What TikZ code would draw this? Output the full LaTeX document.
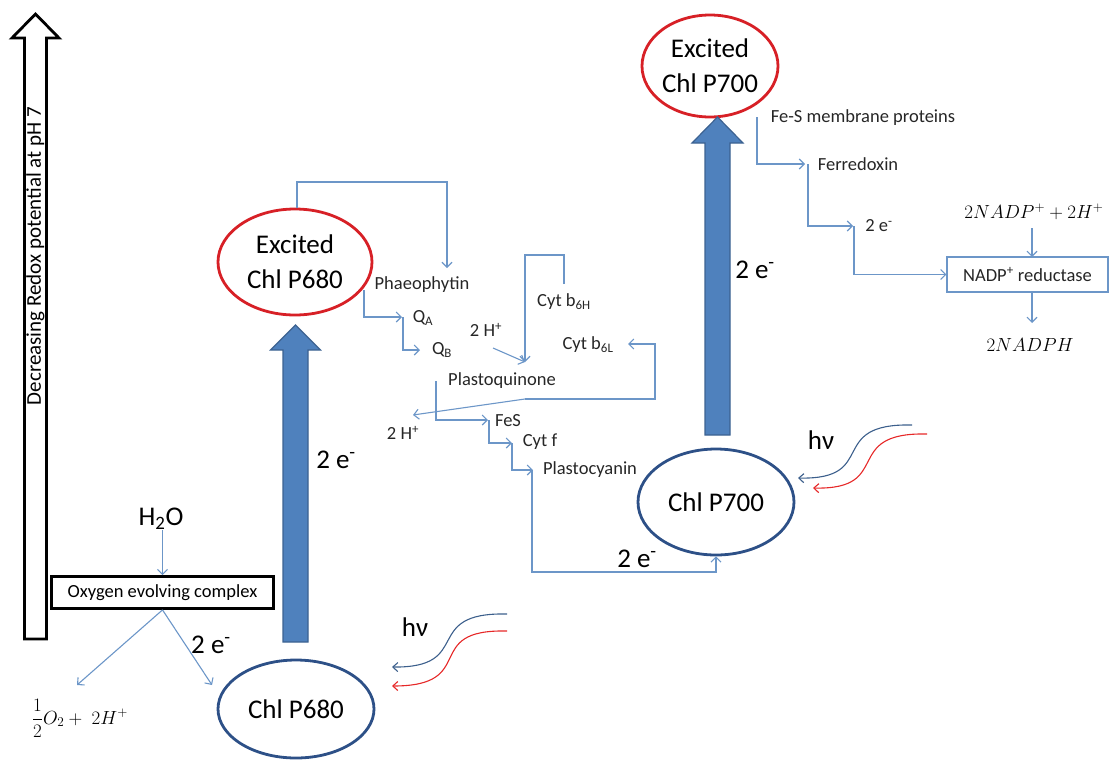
\RequirePackage{fix-cm}
\documentclass[tikz,border=0pt]{standalone}
\usepackage{fontspec}
\setmainfont{Carlito}
\usetikzlibrary{arrows.meta,shapes.geometric}
\definecolor{conn}{RGB}{108,150,200}
\definecolor{bigfill}{RGB}{79,129,189}
\definecolor{bigedge}{RGB}{60,98,145}
\definecolor{exred}{RGB}{215,32,38}
\definecolor{ellblue}{RGB}{45,80,135}
\definecolor{wavered}{RGB}{230,40,40}
\definecolor{waveblue}{RGB}{60,95,140}
\begin{document}
\begin{tikzpicture}[x=1pt,y=-1pt,
  conn/.style={draw=conn, line width=1.1pt, -{Straight Barb[length=5pt,width=10pt]}},
  bigtxt/.style={inner sep=0pt, font=\fontsize{27}{31}\selectfont, text=black},
  smalltxt/.style={inner sep=0pt, font=\fontsize{18.5}{21}\selectfont, text=black!85},
  mathtxt/.style={inner sep=0pt, font=\fontsize{19}{22}\selectfont, text=black},
  exell/.style={ellipse, draw=exred, line width=2.8pt, inner sep=0pt, align=center, font=\fontsize{27}{35}\selectfont},
  chlell/.style={ellipse, draw=ellblue, line width=2.8pt, inner sep=0pt, font=\fontsize{27}{31}\selectfont},
  bigarrow/.style={fill=bigfill, draw=bigedge, line width=1.2pt, line join=miter},
  wave/.style={line width=1.1pt, -{Straight Barb[length=5pt,width=9pt]}},
]
\useasboundingbox (0,0) rectangle (1110,761);

% redox potential arrow
\draw[line width=2.8pt, fill=white, line join=miter] (24.5,639) -- (24.5,38) -- (12,38) -- (35.5,14) -- (59,38) -- (46.5,38) -- (46.5,639) -- cycle;
\node[rotate=90, inner sep=0pt, font=\fontsize{21}{24}\selectfont] (redox) at (35.5,256) {Decreasing Redox potential at pH 7};

% Oxygen evolving complex
\node[draw=black, line width=2.8pt, fill=white, minimum width=222pt, minimum height=32pt, inner sep=0pt, font=\fontsize{18.5}{21}\selectfont] (oec) at (162.5,592.5) {Oxygen evolving complex};
\node[bigtxt] (h2o) at (161,519) {H\textsubscript{2}O};
\draw[conn] (h2o.south -| oec.north) -- (oec.north);
\coordinate (o2tip) at (77,685);
\coordinate (e2tip) at (212,685);
\draw[conn] (oec.south) -- (o2tip);
\draw[conn] (oec.south) -- (e2tip);
\node[bigtxt] (e1) at (211,645) {2 e\textsuperscript{-}};
\node[mathtxt] (half) at (80,718) {$\displaystyle\frac{1}{2}O_{2}+\;2H^{+}$};

% PSII
\node[chlell, minimum width=156pt, minimum height=98pt] (p680) at (296,709) {Chl P680};
\node[exell, minimum width=154pt, minimum height=106pt] (ex680) at (295,262) {Excited\\Chl P680};
\draw[bigarrow] (283,642) -- (283,350) -- (270.5,350) -- (295.5,325) -- (320.5,350) -- (308,350) -- (308,642) -- cycle;
\node[bigtxt] (e2) at (336,460) {2 e\textsuperscript{-}};

% light 1
\node[bigtxt] (hv1) at (415,627) {hν};
\draw[wave, draw=waveblue] (507,614) .. controls (420,612) and (475,668) .. (392,667);
\draw[wave, draw=wavered] (507,631) .. controls (420,629) and (480,686) .. (392,686);

% electron transport chain
\node[smalltxt] (phaeo) at (422,285) {Phaeophytin};
\draw[conn] (297,208) -- (297,182) -- (447,182) -- (447,268);
\node[smalltxt] (qa) at (423,318) {Q\textsubscript{A}};
\draw[conn] (364,290) -- (364,317) -- (402,317);
\node[smalltxt] (qb) at (442,350) {Q\textsubscript{B}};
\draw[conn] (403,317) -- (403,350) -- (420,350);
\node[smalltxt] (hup) at (486,330) {2 H\textsuperscript{+}};
\coordinate (pqin) at (525,362);
\draw[conn] (493,348) -- (pqin);
\node[smalltxt] (b6h) at (564,302) {Cyt b\textsubscript{6H}};
\draw[conn] (564,284) -- (564,255) -- (525,255) -- (pqin);
\node[smalltxt] (b6l) at (588,345) {Cyt b\textsubscript{6L}};
\node[smalltxt] (pq) at (502,381) {Plastoquinone};
\coordinate (pqout) at (525,399);
\draw[conn] (pqout) -- (655,399) -- (655,344) -- (628,344);
\node[smalltxt] (hdown) at (403,433) {2 H\textsuperscript{+}};
\draw[conn] (pqout) -- (413,415);
\node[smalltxt] (fes) at (508,421) {FeS};
\draw[conn] (436,381) -- (436,420) -- (488,420);
\node[smalltxt] (cytf) at (540,442) {Cyt f};
\draw[conn] (489,420) -- (489,443) -- (512,443);
\node[smalltxt] (pc) at (590,470) {Plastocyanin};
\draw[conn] (512,443) -- (512,470) -- (533,470);

% PSI
\node[chlell, minimum width=156pt, minimum height=106pt] (p700) at (716,502) {Chl P700};
\draw[conn] (532,470) -- (532,572) -| (p700.south);
\node[bigtxt] (e3) at (637,559) {2 e\textsuperscript{-}};
\node[exell, minimum width=136pt, minimum height=102pt] (ex700) at (710,66) {Excited\\Chl P700};
\draw[bigarrow] (705,435) -- (705,143) -- (692,143) -- (717.5,117) -- (743,143) -- (730,143) -- (730,435) -- cycle;
\node[bigtxt] (e4) at (755,270) {2 e\textsuperscript{-}};

% light 2
\node[bigtxt] (hv2) at (821,440) {hν};
\draw[wave, draw=waveblue] (912,425) .. controls (825,423) and (880,480) .. (798,478);
\draw[wave, draw=wavered] (927,434) .. controls (840,432) and (895,490) .. (813,488);

% ferredoxin chain
\node[smalltxt] (fesm) at (863,118) {Fe-S membrane proteins};
\node[smalltxt] (fd) at (858,164) {Ferredoxin};
\draw[conn] (757,117) -- (757,164) -- (805,164);
\node[smalltxt] (e5) at (879,226) {2 e\textsuperscript{-}};
\draw[conn] (808,164) -- (808,226) -- (853,226);
\node[draw=conn, line width=1.1pt, minimum width=161pt, minimum height=35pt, inner sep=0pt, font=\fontsize{18.5}{21}\selectfont, text=black!85] (nadpr) at (1027.5,274.5) {NADP\textsuperscript{+} reductase};
\draw[conn] (854,226) -- (854,274.5) -- (nadpr.west);
\node[mathtxt] (nadp) at (1034,212) {$2NADP^{+}+2H^{+}$};
\draw[conn] (1032,228) -- (1032,257);
\node[mathtxt] (nadph) at (1030,345) {$2NADPH$};
\draw[conn] (1032,292) -- (1032,323);
\end{tikzpicture}
\end{document}
